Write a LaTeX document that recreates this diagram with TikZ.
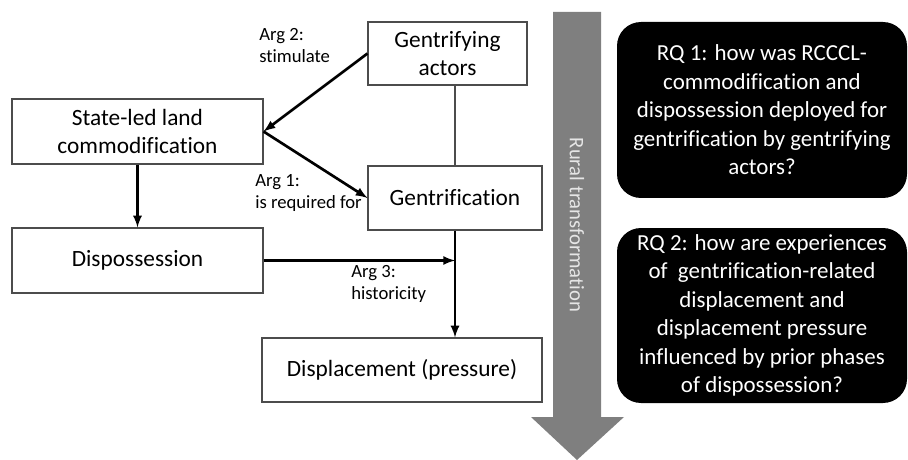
\documentclass[tikz,border=0pt]{standalone}
\usepackage{fontspec}
\setmainfont{Carlito}[Ligatures=NoCommon]
\begin{document}
\begin{tikzpicture}[x=0.75pt,y=-0.75pt,
  concept/.style={draw=black!70,line width=0.8pt,align=center,inner sep=2pt,
    font=\fontsize{17.5}{21}\selectfont},
  rq/.style={fill=black,text=white,rounded corners=18pt,align=center,
    minimum width=217.5pt,font=\fontsize{17.2}{21.4}\selectfont},
  arg/.style={align=left,font=\fontsize{14}{16.5}\selectfont,inner sep=0pt,anchor=north west},
  link/.style={-latex,line width=2pt}]
\definecolor{flowgray}{HTML}{7F7F7F}
\definecolor{flowtext}{HTML}{E6E6E6}
\useasboundingbox (0,0) rectangle (908,460);
% rural transformation arrow
\fill[flowgray] (553,12) -- (601,12) -- (601,417) -- (624,417) -- (577,460)
  -- (531,417) -- (553,417) -- cycle;
\node[text=flowtext,rotate=-90,font=\fontsize{15.5}{17}\selectfont] (rural) at (577,225) {Rural transformation};
% concepts
\node[concept,minimum width=119.25pt,minimum height=47.25pt] (actors) at (447.5,53.5) {Gentrifying\\actors};
\node[concept,minimum width=188.25pt,minimum height=48.75pt] (statecom) at (137.5,131.5) {State-led land\\commodification};
\node[concept,minimum width=130.5pt,minimum height=48pt] (gent) at (455,198) {Gentrification};
\node[concept,minimum width=188.25pt,minimum height=48.75pt] (dispo) at (137.5,260.5) {Dispossession};
\node[concept,minimum width=210pt,minimum height=48pt] (displ) at (402,370) {Displacement (pressure)};
\coordinate (join) at (gent.south |- dispo.east);
% arguments
\node[arg] (arg2) at (259,28) {Arg 2:\\stimulate};
\node[arg] (arg1) at (255,174) {Arg 1:\\is required for};
\node[arg] (arg3) at (351,265) {Arg 3:\\historicity};
\draw[black!70,line width=0.8pt] (gent.north) -- (gent.north |- actors.south);
\draw[link] (actors.west) -- (statecom.east);
\draw[link] (statecom.east) -- (gent.west);
\draw[link] (statecom) -- (dispo);
\draw[link] (dispo.east) -- (join);
\draw[link] (gent.south) -- (gent.south |- displ.north);
% research questions
\node[rq,minimum height=132pt] (rq1) at (762,110) {RQ 1: how was RCCCL-\\commodification and\\dispossession deployed for\\gentrification by gentrifying\\actors?};
\node[rq,minimum height=131.25pt] (rq2) at (762,315.5) {RQ 2: how are experiences\\of\ \ gentrification-related\\displacement and\\displacement pressure\\influenced by prior phases\\of dispossession?};
\end{tikzpicture}
\end{document}
